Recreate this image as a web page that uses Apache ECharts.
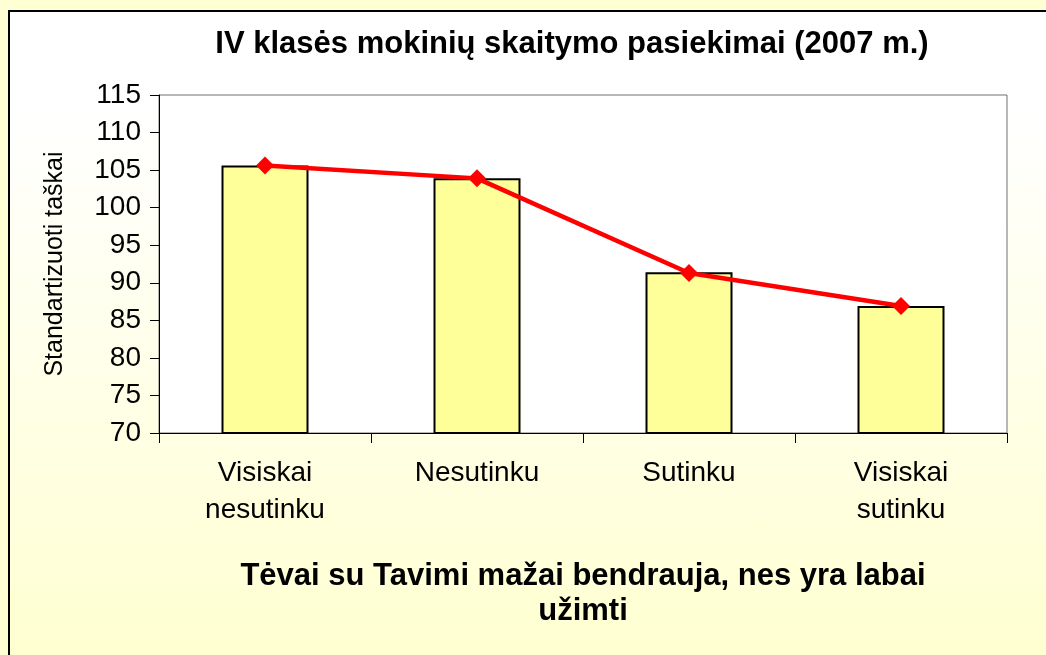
<!DOCTYPE html>
<html>
<head>
<meta charset="utf-8">
<script src="https://cdn.jsdelivr.net/npm/echarts@6/dist/echarts.min.js"></script>
<style>
  html, body { margin: 0; padding: 0; background: #ffffd4; }
  #wrap { position: relative; width: 1046px; height: 655px; overflow: hidden; }
  #panel {
    position: absolute; left: 8px; top: 10px; width: 1060px; height: 660px;
    border-left: 2px solid #000; border-top: 2px solid #000;
    background: linear-gradient(to bottom, #ffffff 0%, #ffffff 15%, #ffffd0 100%);
  }
  #chart { position: absolute; left: 0; top: 0; width: 1046px; height: 655px; }
</style>
</head>
<body>
<div id="wrap">
  <div id="panel"></div>
  <div id="chart"></div>
</div>
<script>
const categories = ['Visiskai\nnesutinku', 'Nesutinku', 'Sutinku', 'Visiskai\nsutinku']
const barValues = [105.6, 103.9, 91.4, 86.9]
const lineValues = [105.6, 103.9, 91.3, 86.9]
const yTicks = { min: 70, max: 115, interval: 5 }

const font = '"Liberation Sans", Arial, sans-serif'

const chart = echarts.init(document.getElementById('chart'))

chart.setOption({
  backgroundColor: 'transparent',
  animation: false,
  title: {
    text: 'IV klasės mokinių skaitymo pasiekimai (2007 m.)',
    left: 567,
    textAlign: 'center',
    top: 24,
    textStyle: { fontFamily: font, fontSize: 31, fontWeight: 'bold', color: '#000' },
  },
  grid: {
    left: 159, right: 39, top: 95, bottom: 222,
    show: true, backgroundColor: '#ffffff', borderColor: '#707070', borderWidth: 1,
  },
  xAxis: {
    type: 'category',
    data: categories,
    axisLine: { lineStyle: { color: '#000', width: 1 } },
    axisTick: { show: true, length: 10, lineStyle: { color: '#000' } },
    axisLabel: {
      margin: 22, fontFamily: font, fontSize: 28, color: '#000', lineHeight: 37, interval: 0,
    },
    name: 'Tėvai su Tavimi mažai bendrauja, nes yra labai\nužimti',
    nameLocation: 'middle',
    nameGap: 126,
    nameTextStyle: { fontFamily: font, fontSize: 31, fontWeight: 'bold', color: '#000', lineHeight: 35 },
  },
  yAxis: {
    type: 'value',
    min: yTicks.min, max: yTicks.max, interval: yTicks.interval,
    axisLine: { show: true, lineStyle: { color: '#000', width: 1 } },
    axisTick: { show: true, length: 9, lineStyle: { color: '#000' } },
    axisLabel: { margin: 18, fontFamily: font, fontSize: 28, color: '#000' },
    splitLine: { show: false },
    name: 'Standartizuoti taškai',
    nameLocation: 'middle',
    nameGap: 91,
    nameTextStyle: { fontFamily: font, fontSize: 25, color: '#000' },
  },
  series: [
    {
      type: 'bar',
      data: barValues,
      barWidth: 87,
      itemStyle: { color: '#ffff99', borderColor: '#000', borderWidth: 2 },
    },
    {
      type: 'line',
      data: lineValues,
      symbol: 'diamond',
      symbolSize: 18,
      lineStyle: { color: '#ff0000', width: 4.5 },
      itemStyle: { color: '#ff0000' },
      z: 3,
    },
  ],
})
</script>
</body>
</html>
